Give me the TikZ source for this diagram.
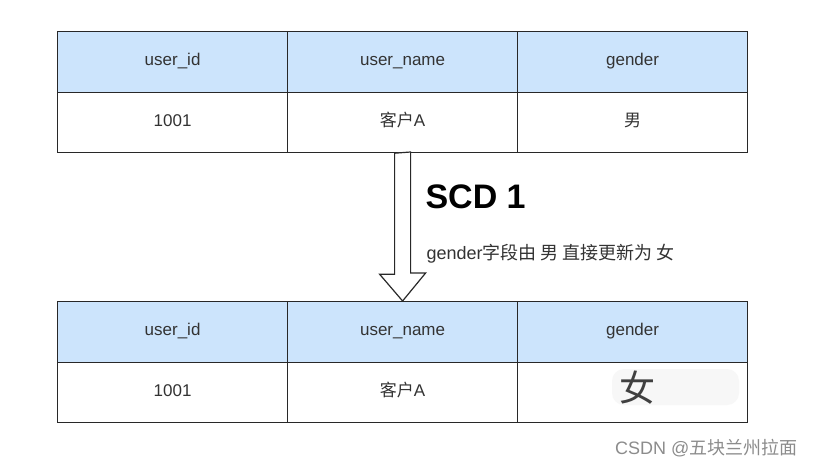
\documentclass[tikz,border=0pt]{standalone}
\usepackage{fontspec}
\setmainfont{Liberation Sans}
\newfontfamily\cjk{Noto Sans CJK SC}
\definecolor{headblue}{RGB}{204,228,252}
\definecolor{cellline}{RGB}{40,40,40}
\tikzset{
  cell/.style={draw=cellline, line width=1.2pt, minimum width=230pt, minimum height=60.5pt,
    anchor=north west, inner sep=0pt, text height=12pt, text depth=4pt,
    font=\fontsize{17}{17}\selectfont, text=black!80},
  headcell/.style={cell, fill=headblue},
  hollowarrow/.style={draw=cellline, line width=1.2pt, fill=white, line join=miter},
}
\begin{document}
\begin{tikzpicture}[x=1pt,y=-1pt]
    \useasboundingbox[fill=white] (0,0) rectangle (815,466);
    % table before the update
    \node[headcell] (th1) at (57,31) {user\_id};
    \node[headcell] (th2) at (287,31) {user\_name};
    \node[headcell] (th3) at (517,31) {gender};
    \node[cell] (td1) at (57,91.5) {1001};
    \node[cell] (td2) at (287,91.5) {{\cjk 客户}A};
    \node[cell] (td3) at (517,91.5) {{\cjk 男}};
    % table after the update
    \node[headcell] (bh1) at (57,301) {user\_id};
    \node[headcell] (bh2) at (287,301) {user\_name};
    \node[headcell] (bh3) at (517,301) {gender};
    \node[cell] (bd1) at (57,361.5) {1001};
    \node[cell] (bd2) at (287,361.5) {{\cjk 客户}A};
    \node[cell] (bd3) at (517,361.5) {};
    \fill[black!3, rounded corners=12pt] (612,369) rectangle (739,405);
    \node[font=\fontsize{36}{36}\selectfont\cjk, text=black!75] (newval) at (637,388) {女};
    % hollow arrow
    \draw[hollowarrow] (td2.south) ++(-8,0) -- ++(0,121) -- ++(-15,0) -- (bh2.north)
        -- ++(23,-28) -- ++(-15,0) -- ++(0,-121) -- cycle;
    \node[anchor=base west, font=\fontsize{34}{34}\selectfont\bfseries] (scd) at (422,208) {SCD 1};
    \node[anchor=base west, font=\fontsize{18}{18}\selectfont, text=black!80] (note) at (423,259)
        {gender{\cjk 字段由 男 直接更新为 女}};
    \node[anchor=base east, font=\fontsize{18}{18}\selectfont, text=black!45] (mark) at (801,454)
        {CSDN @{\cjk 五块兰州拉面}};
\end{tikzpicture}
\end{document}
